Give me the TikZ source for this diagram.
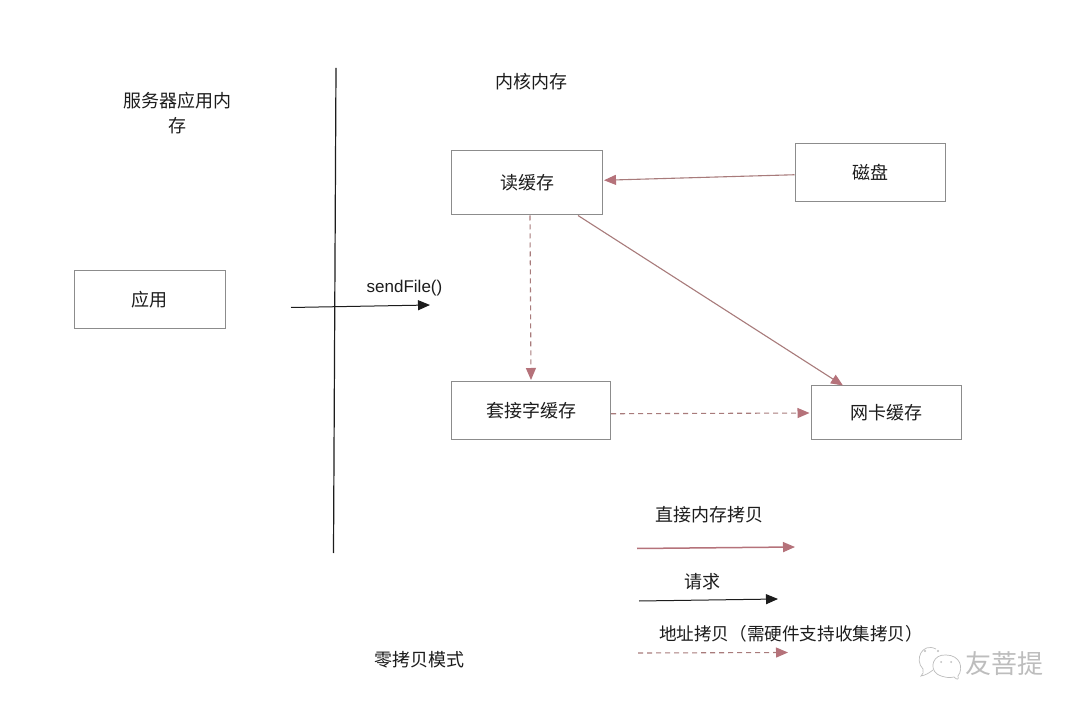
\documentclass[tikz,border=0pt]{standalone}
\usepackage{fontspec}
\setmainfont{Noto Sans CJK SC}
\newfontfamily\latinfont{Liberation Sans}
\usetikzlibrary{arrows.meta}
\definecolor{rosec}{HTML}{B5727A}
\definecolor{rosed}{HTML}{A87B7B}
\definecolor{boxc}{HTML}{8C8C8C}
\definecolor{inkc}{HTML}{1C1C1C}
\definecolor{markc}{HTML}{BDBDBD}
\tikzset{
  x=1pt,y=-1pt,
  boxn/.style={draw=boxc,line width=1pt,fill=white,inner sep=0pt,text=inkc,font=\fontsize{18}{20}\selectfont},
  lab/.style={inner sep=0pt,text=inkc,align=center,font=\fontsize{18}{25}\selectfont},
  headr/.style={-{Triangle[length=12pt,width=10pt,fill=rosec,color=rosec]}},
  copyline/.style={headr,draw=rosed,line width=1.1pt},
  legcopy/.style={headr,draw=rosec,line width=1.5pt},
  addrline/.style={headr,draw=rosed,line width=1.1pt,dash pattern=on 5pt off 4pt},
  reqline/.style={-{Triangle[length=12pt,width=10pt,fill=inkc,color=inkc]},draw=inkc,line width=1pt},
  markline/.style={draw=markc,line width=.7pt},
  markdot/.style={fill=markc,draw=none}
}
\begin{document}
\begin{tikzpicture}
\useasboundingbox (0,0) rectangle (1080,711);
\fill[white] (0,0) rectangle (1080,711);
% boxes
\node[boxn,minimum width=151pt,minimum height=64.5pt] (readbuf) at (527,182.75) {读缓存};
\node[boxn,minimum width=150pt,minimum height=58.5pt] (disk) at (870,172.75) {磁盘};
\node[boxn,minimum width=159pt,minimum height=58.5pt] (sockbuf) at (531,410.75) {套接字缓存};
\node[boxn,minimum width=150pt,minimum height=54pt] (nicbuf) at (886,413) {网卡缓存};
\node[boxn,minimum width=151pt,minimum height=58pt] (appn) at (149.5,300) {应用};
% labels
\node[lab] (titleapp) at (177.5,113.5) {服务器应用内\\存};
\node[lab] (titlekern) at (531,82) {内核内存};
\node[lab,font=\latinfont\fontsize{17}{20}\selectfont] (sendf) at (404.5,288.5) {sendFile()};
\node[lab] (zeromode) at (419.5,660) {零拷贝模式};
\node[lab] (legdirect) at (709.5,515) {直接内存拷贝};
\node[lab] (legreq) at (702,582) {请求};
\node[lab,font=\fontsize{17.6}{25}\selectfont] (legaddr) at (791,634) {地址拷贝（需硬件支持收集拷贝）};
% free ends
\coordinate (divtop) at (336,68);
\coordinate (divbot) at (333.5,553);
\coordinate (reqa) at (291,307.5);
\coordinate (reqb) at (430,305);
\coordinate (l1a) at (637,548.5);
\coordinate (l1b) at (795,547);
\coordinate (l2a) at (639,601);
\coordinate (l2b) at (778,599);
\coordinate (l3a) at (638,653);
\coordinate (l3b) at (788,652.5);
% connectors
\draw[draw=inkc,line width=1.2pt] (divtop) -- (divbot);
\draw[reqline] (reqa) -- (reqb);
\draw[copyline] ([yshift=-2pt]disk.west) -- ([xshift=1pt,yshift=2.5pt]readbuf.east);
\draw[copyline] ([xshift=51pt]readbuf.south) -- ([xshift=-43pt]nicbuf.north);
\draw[addrline] ([xshift=3pt]readbuf.south) -- ([yshift=1pt]sockbuf.north);
\draw[addrline] ([yshift=-3pt]sockbuf.east) -- ([xshift=-1pt]nicbuf.west);
\draw[legcopy] (l1a) -- (l1b);
\draw[reqline] (l2a) -- (l2b);
\draw[addrline] (l3a) -- (l3b);
% watermark
\draw[markline] (936,649) .. controls (922,642) and (914,660) .. (923,669) .. controls (924,672) and (923,674) .. (921,676) .. controls (926,675) and (929,673) .. (933,670);
\draw[markline] (946,655) .. controls (933,654) and (929,668) .. (937,674) .. controls (944,678) and (950,678) .. (954,677) .. controls (957,680) and (959,680) .. (958,676) .. controls (964,668) and (960,655) .. (946,655);
\fill[markdot] (925,651) circle (1.2pt) (938,651) circle (1.2pt) (941,662) circle (1pt) (951,662) circle (1pt);
\node[inner sep=0pt,text=markc,font=\fontsize{26}{28}\selectfont] (wmtext) at (1004,664) {友菩提};
\end{tikzpicture}
\end{document}
